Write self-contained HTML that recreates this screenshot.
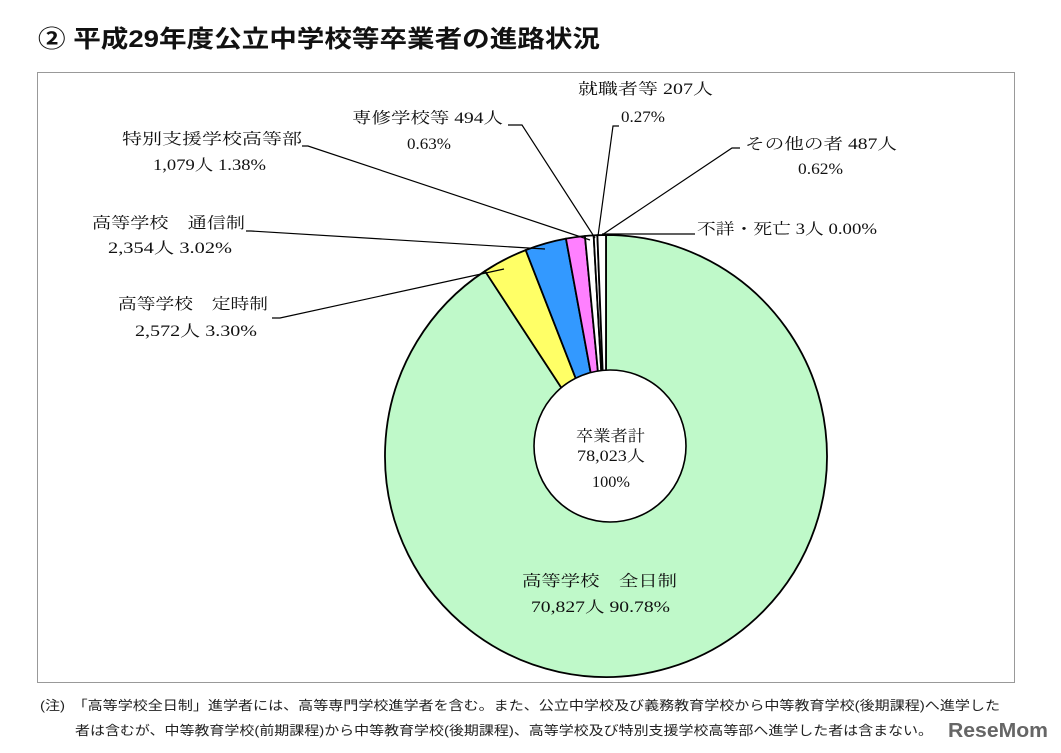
<!DOCTYPE html>
<html><head><meta charset="utf-8"><style>
html,body{margin:0;padding:0;background:#fff;}
svg{display:block;}
.s{font-family:"Liberation Serif","Noto Serif CJK JP",serif;font-size:15.5px;fill:#111;}
.g{font-family:"Liberation Sans","Noto Sans CJK JP",sans-serif;}
</style></head><body>
<svg width="1061" height="753" viewBox="0 0 1061 753" xmlns="http://www.w3.org/2000/svg">
<rect width="1061" height="753" fill="#fff"/>
<text x="38" y="47" class="g" font-size="24" font-weight="bold" fill="#111" textLength="562" lengthAdjust="spacingAndGlyphs">② 平成29年度公立中学校等卒業者の進路状況</text>
<rect x="37.5" y="72.5" width="977" height="610" fill="none" stroke="#999" stroke-width="1"/>
<g stroke="#000" stroke-width="1.8" stroke-linejoin="round">
<path d="M606,456 L606,235 A221,221 0 1 1 485,271.06 Z" fill="#bff9c9"/>
<path d="M606,456 L485,271.06 A221,221 0 0 1 525.68,250.11 Z" fill="#ffff66"/>
<path d="M606,456 L525.68,250.11 A221,221 0 0 1 565.95,238.66 Z" fill="#3399ff"/>
<path d="M606,456 L565.95,238.66 A221,221 0 0 1 584.93,236.01 Z" fill="#ff80ff"/>
<path d="M606,456 L584.93,236.01 A221,221 0 0 1 593.65,235.34 Z" fill="#fff"/>
<path d="M606,456 L593.65,235.34 A221,221 0 0 1 597.39,235.17 Z" fill="#fff"/>
<path d="M606,456 L597.39,235.17 A221,221 0 0 1 606,235 Z" fill="#fff"/>
</g>
<circle cx="610" cy="446" r="76" fill="#fff" stroke="#000" stroke-width="1.6"/>
<g stroke="#000" stroke-width="1.2" fill="none">
<polyline points="302,146 308,146 590,240"/>
<polyline points="508,125 515,125 522,125 595,238"/>
<polyline points="246,231 251,231 545,249"/>
<polyline points="272,318 280,318 504,269"/>
<polyline points="619,126 613,126 598,236"/>
<polyline points="740,148 732,148 602,235"/>
<polyline points="695,234 602,234"/>
</g>
<g class="s">
<text x="578" y="94" textLength="135" lengthAdjust="spacingAndGlyphs">就職者等 207人</text>
<text x="621" y="122" textLength="44" lengthAdjust="spacingAndGlyphs">0.27%</text>
<text x="352" y="123" textLength="151" lengthAdjust="spacingAndGlyphs">専修学校等 494人</text>
<text x="407" y="149" textLength="44" lengthAdjust="spacingAndGlyphs">0.63%</text>
<text x="122" y="144" textLength="180" lengthAdjust="spacingAndGlyphs">特別支援学校高等部</text>
<text x="153" y="170" textLength="113" lengthAdjust="spacingAndGlyphs">1,079人 1.38%</text>
<text x="745" y="149" textLength="152" lengthAdjust="spacingAndGlyphs">その他の者 487人</text>
<text x="798" y="174" textLength="45" lengthAdjust="spacingAndGlyphs">0.62%</text>
<text x="697" y="234" textLength="180" lengthAdjust="spacingAndGlyphs">不詳・死亡 3人 0.00%</text>
<text x="92" y="228" textLength="153" lengthAdjust="spacingAndGlyphs">高等学校　通信制</text>
<text x="108" y="253" textLength="124" lengthAdjust="spacingAndGlyphs">2,354人 3.02%</text>
<text x="118" y="309" textLength="150" lengthAdjust="spacingAndGlyphs">高等学校　定時制</text>
<text x="135" y="336" textLength="122" lengthAdjust="spacingAndGlyphs">2,572人 3.30%</text>
<text x="576" y="441" textLength="69" lengthAdjust="spacingAndGlyphs">卒業者計</text>
<text x="577" y="461" textLength="68" lengthAdjust="spacingAndGlyphs">78,023人</text>
<text x="592" y="487" textLength="38" lengthAdjust="spacingAndGlyphs">100%</text>
<text x="522" y="586" textLength="155" lengthAdjust="spacingAndGlyphs">高等学校　全日制</text>
<text x="531" y="612" textLength="139" lengthAdjust="spacingAndGlyphs">70,827人 90.78%</text>
</g>
<g class="g" font-size="13" fill="#222">
<text x="40" y="710" textLength="960" lengthAdjust="spacingAndGlyphs">(注)　「高等学校全日制」進学者には、高等専門学校進学者を含む。また、公立中学校及び義務教育学校から中等教育学校(後期課程)へ進学した</text>
<text x="75" y="735" textLength="858" lengthAdjust="spacingAndGlyphs">者は含むが、中等教育学校(前期課程)から中等教育学校(後期課程)、高等学校及び特別支援学校高等部へ進学した者は含まない。</text>
</g>
<text x="948" y="737" class="g" font-size="20" font-weight="bold" fill="#666" textLength="100" lengthAdjust="spacingAndGlyphs">ReseMom</text>
</svg>
</body></html>
